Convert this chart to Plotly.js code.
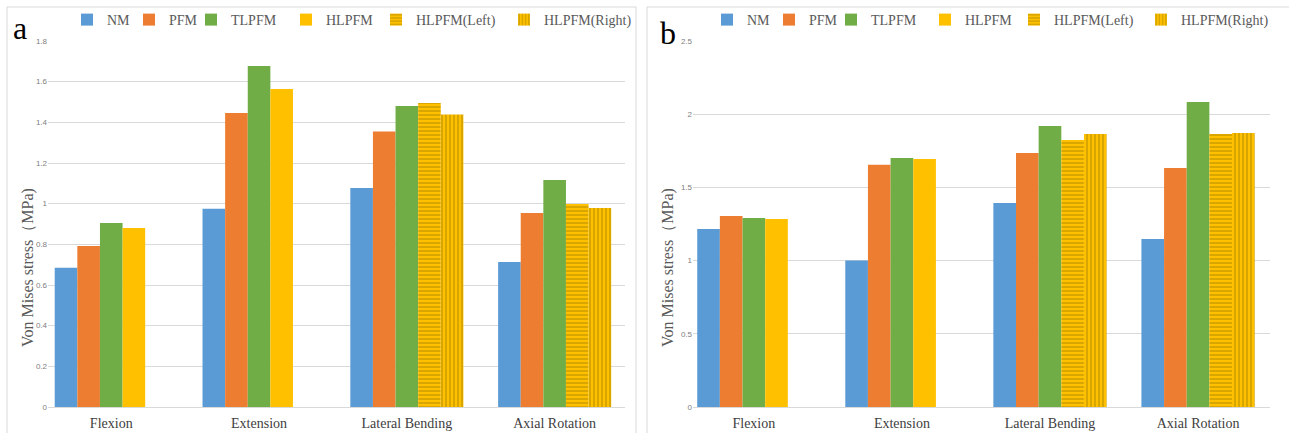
<!DOCTYPE html>
<html>
<head>
<meta charset="utf-8">
<script src="https://cdn.plot.ly/plotly-3.0.1.min.js"></script>
<style>html,body{margin:0;padding:0;background:#fff;}#chart{width:1289px;height:433px;}</style>
</head>
<body>
<div id="chart"></div>
<script>
// ---- data ----
const categories = ['Flexion', 'Extension', 'Lateral Bending', 'Axial Rotation'];
const seriesNames = ['NM', 'PFM', 'TLPFM', 'HLPFM', 'HLPFM(Left)', 'HLPFM(Right)'];

// panel a
const a_NM    = [0.685, 0.975, 1.077, 0.713];
const a_PFM   = [0.792, 1.446, 1.355, 0.954];
const a_TLPFM = [0.905, 1.677, 1.480, 1.117];
const a_HLPFM = [0.880, 1.564, null, null];
const a_Left  = [null, null, 1.495, 0.998];
const a_Right = [null, null, 1.438, 0.979];

// panel b
const b_NM    = [1.216, 1.000, 1.393, 1.148];
const b_PFM   = [1.305, 1.655, 1.735, 1.633];
const b_TLPFM = [1.291, 1.700, 1.919, 2.083];
const b_HLPFM = [1.284, 1.694, null, null];
const b_Left  = [null, null, 1.824, 1.865];
const b_Right = [null, null, 1.865, 1.872];

// ---- style ----
const W = 1289, H = 433;
const colors = ['#5B9BD5', '#ED7D31', '#70AD47', '#FFC000', '#FFC000', '#FFC000'];
const patterns = [null, null, null, null,
  {shape: '-', fgcolor: '#b48c00', bgcolor: '#FFC000', size: 4, solidity: 0.25},
  {shape: '|', fgcolor: '#b48c00', bgcolor: '#FFC000', size: 4, solidity: 0.25}];
const slots = [0, 1, 2, 3, 3, 4];
const bw = 0.153;
const serif = 'Liberation Serif, Times New Roman, serif';

const legendCentersA = [87, 149, 211, 306, 396, 524];
const legendCentersB = [727, 789, 851, 945, 1034, 1161];

const dataA = [a_NM, a_PFM, a_TLPFM, a_HLPFM, a_Left, a_Right];
const dataB = [b_NM, b_PFM, b_TLPFM, b_HLPFM, b_Left, b_Right];

const traces = [];
const layout = {
  width: W, height: H,
  margin: {l: 0, r: 0, t: 0, b: 0},
  paper_bgcolor: '#ffffff', plot_bgcolor: '#ffffff',
  barmode: 'overlay',
  showlegend: true,
  font: {family: serif, color: '#595959'},
  annotations: [], shapes: []
};

function addPanel(vals, xa, ya, legendStart, centers) {
  vals.forEach((v, i) => {
    const lname = 'legend' + (legendStart + i === 1 ? '' : (legendStart + i));
    const m = {color: colors[i], line: {width: 0}};
    if (patterns[i]) m.pattern = patterns[i];
    traces.push({
      type: 'bar', name: seriesNames[i], x: categories, y: v,
      xaxis: xa, yaxis: ya, marker: m,
      width: bw, offset: -2.5 * bw + slots[i] * bw,
      legend: lname, hoverinfo: 'x+y+name'
    });
    layout[lname] = {
      orientation: 'h', x: (centers[i] - 20) / W, xanchor: 'left',
      y: (H - 20) / H, yanchor: 'middle', bgcolor: 'rgba(0,0,0,0)',
      borderwidth: 0, font: {family: serif, size: 14, color: '#595959'}
    };
  });
}
addPanel(dataA, 'x', 'y', 1, legendCentersA);
addPanel(dataB, 'x2', 'y2', 7, legendCentersB);

const yDomain = [26 / H, 392 / H];
const xCommon = {
  type: 'category', showgrid: false, zeroline: false, showline: false, ticks: '',
  ticklabelstandoff: 6,
  tickfont: {family: serif, size: 14, color: '#404040'}, fixedrange: true
};
const yCommon = {
  showgrid: true, gridcolor: '#d9d9d9', gridwidth: 1, zeroline: true, zerolinecolor: '#d9d9d9',
  showline: false, ticks: '', tickfont: {family: 'Liberation Sans, Arial, sans-serif', size: 8, color: '#808080'},
  domain: yDomain, fixedrange: true
};
layout.xaxis = Object.assign({}, xCommon, {domain: [48 / W, 625 / W], range: [-0.428, 3.476], anchor: 'y'});
layout.xaxis2 = Object.assign({}, xCommon, {domain: [693 / W, 1270 / W], range: [-0.411, 3.486], anchor: 'y2'});
layout.yaxis = Object.assign({}, yCommon, {range: [0, 1.8], dtick: 0.2, anchor: 'x'});
layout.yaxis2 = Object.assign({}, yCommon, {range: [0, 2.5], dtick: 0.5, anchor: 'x2'});

// panel frames
layout.shapes.push({type: 'rect', xref: 'paper', yref: 'paper', x0: 7 / W, x1: 636 / W, y0: -0.01, y1: (H - 7) / H,
  line: {color: '#d9d9d9', width: 1}, fillcolor: 'rgba(0,0,0,0)', layer: 'below'});
layout.shapes.push({type: 'rect', xref: 'paper', yref: 'paper', x0: 647 / W, x1: 1290 / W, y0: -0.01, y1: (H - 7) / H,
  line: {color: '#d9d9d9', width: 1}, fillcolor: 'rgba(0,0,0,0)', layer: 'below'});

// panel letters
layout.annotations.push({text: 'a', xref: 'paper', yref: 'paper', x: 20 / W, y: (H - 28) / H,
  showarrow: false, font: {family: serif, size: 32, color: '#000'}, xanchor: 'center', yanchor: 'middle'});
layout.annotations.push({text: 'b', xref: 'paper', yref: 'paper', x: 668 / W, y: (H - 33) / H,
  showarrow: false, font: {family: serif, size: 32, color: '#000'}, xanchor: 'center', yanchor: 'middle'});

// y axis titles
const ytitle = 'Von Mises stress（MPa)';
layout.annotations.push({text: ytitle, xref: 'paper', yref: 'paper', x: 28 / W, y: (H - 268) / H,
  textangle: -90, showarrow: false, font: {family: serif, size: 16, color: '#595959'}, xanchor: 'center', yanchor: 'middle'});
layout.annotations.push({text: ytitle, xref: 'paper', yref: 'paper', x: 668 / W, y: (H - 268) / H,
  textangle: -90, showarrow: false, font: {family: serif, size: 16, color: '#595959'}, xanchor: 'center', yanchor: 'middle'});

Plotly.newPlot('chart', traces, layout, {displayModeBar: false, staticPlot: true});
</script>
</body>
</html>
